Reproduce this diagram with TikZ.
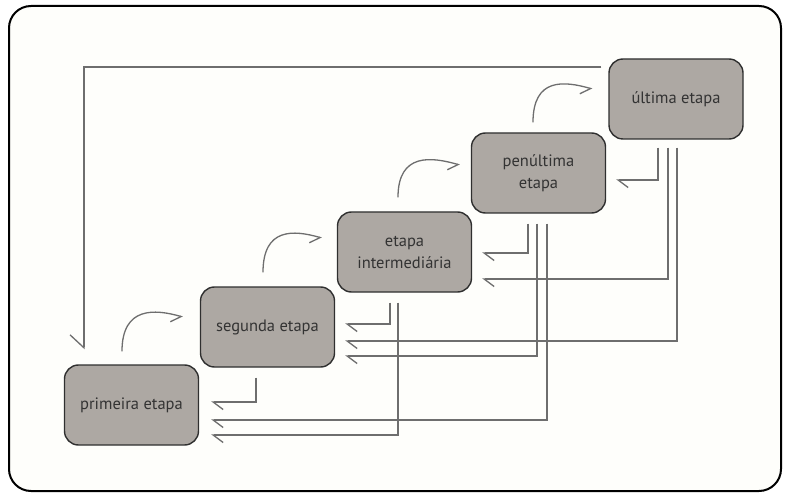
\documentclass[tikz,border=0pt]{standalone}
\usepackage{fontspec}
\setmainfont{PT Sans}
\usetikzlibrary{arrows.meta,calc}

\definecolor{boxfill}{HTML}{ADA8A3}
\definecolor{boxline}{HTML}{2F2F2F}
\definecolor{textcol}{HTML}{333333}
\definecolor{linecol}{HTML}{6E6E6E}
\definecolor{paper}{HTML}{FEFEFB}

\tikzset{
  stage/.style={draw=boxline, fill=boxfill, line width=1.4pt, rounded corners=14pt,
    minimum width=134pt, minimum height=80pt, align=center, text=textcol,
    font=\fontsize{16.5}{22}\selectfont, inner sep=2pt},
  link/.style={draw=linecol, line width=1.3pt},
  back/.style={link, -{Straight Barb[harpoon,length=10pt,width=15pt]}},
  ahead/.style={link, -{Straight Barb[harpoon,swap,length=9pt,width=16pt]}},
  restart/.style={link, -{Straight Barb[harpoon,swap,length=13pt,width=28pt]}}
}

\begin{document}
\begin{tikzpicture}[x=1pt,y=-1pt]
  \useasboundingbox (0,0) rectangle (787,497);
  \draw[fill=paper, line width=2pt, rounded corners=22pt] (9,6) rectangle (781,491);

  % the five stages, climbing to the right
  \node[stage] (p) at (131.5,405) {primeira etapa};
  \node[stage] (s) at (267.5,327) {segunda etapa};
  \node[stage] (i) at (404.5,252) {etapa\\intermediária};
  \node[stage] (n) at (538.5,173) {penúltima\\etapa};
  \node[stage] (u) at (676,99)    {última etapa};

  % forward steps
  \coordinate (c1a) at ($(p.north)+(-9.5,-13)$);
  \coordinate (c1b) at ($(s.west)+(-17,-10)$);
  \coordinate (c2a) at ($(s.north)+(-4.5,-14)$);
  \coordinate (c2b) at ($(i.west)+(-15,-14)$);
  \coordinate (c3a) at ($(i.north)+(-6.5,-14)$);
  \coordinate (c3b) at ($(n.west)+(-11,-8)$);
  \coordinate (c4a) at ($(n.north)+(-5.5,-10)$);
  \coordinate (c4b) at ($(u.west)+(-16,-10)$);
  \draw[ahead] (c1a) .. controls +(0,-45) and +(-28,-8) .. (c1b);
  \draw[ahead] (c2a) .. controls +(0,-45) and +(-28,-8) .. (c2b);
  \draw[ahead] (c3a) .. controls +(0,-45) and +(-28,-8) .. (c3b);
  \draw[ahead] (c4a) .. controls +(0,-45) and +(-28,-8) .. (c4b);

  % returns from the second stage
  \draw[back] ($(s.south)+(-11.5,10)$) |- ($(p.east)+(12,-3)$);

  % returns from the intermediate stage
  \draw[back] ($(i.south)+(-14.5,10)$) |- ($(s.east)+(10,-3)$);
  \draw[back] ($(i.south)+(-6.5,10)$)  |- ($(p.east)+(12,30)$);

  % returns from the second-to-last stage
  \draw[back] ($(n.south)+(-10.5,10)$) |- ($(i.east)+(10,1)$);
  \draw[back] ($(n.south)+(-1.5,10)$)  |- ($(s.east)+(10,29)$);
  \draw[back] ($(n.south)+(8.5,10)$)   |- ($(p.east)+(12,15)$);

  % returns from the last stage
  \draw[back] ($(u.south)+(-18,8)$) |- ($(n.east)+(10,7)$);
  \draw[back] ($(u.south)+(-8,8)$)  |- ($(i.east)+(10,27)$);
  \draw[back] ($(u.south)+(1,8)$)   |- ($(s.east)+(10,14)$);

  % restart from the last stage back to the first
  \draw[restart] ($(u.west)+(-7,-32)$) -| ($(p.north)+(-47.5,-15)$);
\end{tikzpicture}
\end{document}
